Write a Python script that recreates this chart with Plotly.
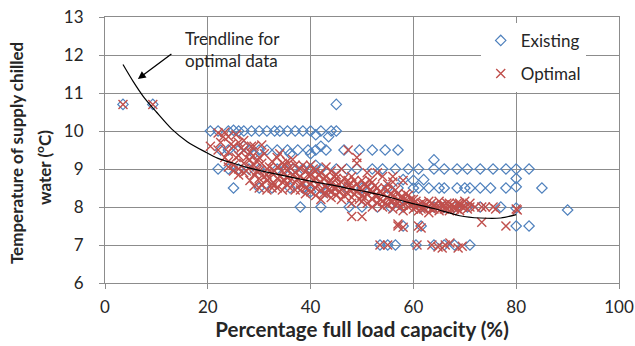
import plotly.graph_objects as go

# ---------------- data ----------------
existing_x = [3.5, 9.3, 45,
              # ~10.0 row
              20.5, 22, 24, 25, 26, 27, 28.5, 30, 31.5, 33, 34, 35.5, 37, 38.5, 40, 41, 42, 43.5, 44, 45,
              # ~9.5 row
              22.5, 24, 26, 27, 28, 29, 30, 31.5, 33.5, 35.5, 36, 37.5, 39.5, 40, 41, 42, 43, 46.5, 49.5, 52, 54.5, 57,
              # ~9.0 row
              22, 24, 26, 28, 30, 33.5, 35, 36.5, 38.5, 40, 41, 42, 45, 47, 49, 52, 54, 56.5, 59, 61, 64, 64,
              66, 68.5, 70.5, 73, 75.5, 78, 80, 82.5,
              # ~8.75 row
              58, 60, 62, 80,
              # ~8.5 row
              25, 30, 32.5, 36, 38.5, 40, 42, 43, 44, 47, 50, 52, 55, 57, 60, 61, 63, 65, 66, 68.5, 70, 71, 73, 75,
              78, 80, 85,
              # ~8.0 row
              38, 42, 47.5, 50, 53, 55.5, 58, 61.5, 64, 66, 68, 70.5, 73, 77, 80, 90,
              # ~7.5 row
              58, 61.5, 80, 82.5,
              # ~7.0 row
              53.5, 55, 56.5, 60.5, 64, 66, 68, 71]
existing_y = [10.7, 10.7, 10.7,
              10.0, 10.0, 10.0, 10.02, 10.0, 10.0, 10.0, 10.0, 10.0, 10.0, 10.0, 10.0, 10.0, 10.0, 10.0, 9.9, 10.0, 9.85, 10.0, 10.0,
              9.5, 9.5, 9.5, 9.6, 9.5, 9.4, 9.5, 9.5, 9.5, 9.5, 9.4, 9.5, 9.5, 9.4, 9.5, 9.6, 9.5, 9.5, 9.5, 9.5, 9.5, 9.5,
              9.0, 9.0, 9.0, 9.0, 9.0, 9.0, 9.0, 9.0, 9.0, 9.0, 9.1, 9.0, 9.0, 9.0, 9.0, 9.0, 9.0, 9.0, 9.0, 9.0, 9.0, 9.24,
              9.0, 9.0, 9.0, 9.0, 9.0, 9.0, 9.0, 9.0,
              8.72, 8.7, 8.72, 8.75,
              8.5, 8.5, 8.5, 8.5, 8.5, 8.4, 8.5, 8.4, 8.5, 8.5, 8.5, 8.5, 8.5, 8.5, 8.5, 8.5, 8.5, 8.5, 8.5, 8.5, 8.5, 8.5, 8.5, 8.5,
              8.5, 8.53, 8.5,
              8.0, 8.0, 8.0, 8.0, 8.0, 8.0, 8.0, 8.0, 8.0, 8.0, 8.0, 8.0, 8.0, 8.0, 7.97, 7.92,
              7.5, 7.5, 7.5, 7.5,
              7.0, 7.0, 7.0, 7.0, 7.0, 7.0, 7.0, 7.0]

optimal_x = [3.5, 9.3, 20.5, 22, 22, 23.3, 23.3, 24, 24, 24, 24, 25, 25, 25,
             26, 26, 26, 26, 27, 27, 27, 27, 28.2, 28.2, 28.2, 28.2, 29, 29, 29, 29,
             30, 30, 30, 30, 30.5, 30.5, 31.5, 31.5, 31.5, 31.5, 32.5, 32.5, 32.5, 32.5,
             33.5, 33.5, 33.5, 33.5, 34.5, 34.5, 34.5, 34.5, 35.4, 35.4, 35.4, 35.4, 36, 36, 36,
             37, 37, 37, 37, 38, 38, 38, 38, 39, 39, 39, 39, 40, 40, 40, 40, 41, 41, 41, 41,
             42, 42, 42, 42, 43, 43, 43, 43, 44, 44, 44, 44, 44, 45, 45, 45, 45, 46, 46, 46, 46,
             47.3, 47.3, 47.3, 47.3, 48, 48, 48, 48, 49, 49, 49, 49, 50, 50, 50, 50, 50,
             51, 51, 51, 51, 52, 52, 52, 52, 53, 53, 53, 53, 54, 54, 54, 54, 55, 55, 55, 55,
             56, 56, 56, 56, 57, 57, 57, 57, 58, 58, 58, 58, 59, 59, 59, 60, 60, 60, 61, 61, 61,
             62, 62, 63, 63, 63, 64, 64, 65, 65, 65, 66, 66, 67, 67, 67, 68, 68, 69, 69, 69, 70, 70, 71,
             73.3, 73.3, 75.5, 78, 80.2,
             53.5, 55, 60.7, 63.6, 64.8, 65.6, 66.2, 67.1, 68.7, 69.5,
             22.5, 23, 24.5, 25.5, 25.5, 26.5, 27.5, 27.5, 28.5, 28.8, 29.5, 29.5, 30.5, 31, 31, 32, 32,
             33, 33, 34, 34, 35, 35, 36.5, 36.5, 37.5, 38.5, 38.5, 39.5, 40.5, 40.5, 41.5, 41.5, 42.5, 42.5,
             43.5, 43.5, 44.5, 44.5, 45.5, 45.5, 46.5, 46.5, 47.5, 47.5, 48.5, 48.5, 49.5, 49.5, 50.5, 50.5,
             51.5, 51.5, 52.5, 52.5, 53.5, 53.5, 54.5, 54.5, 55.5, 55.5, 56.5, 56.5, 57.5, 57.5, 58.5, 58.5,
             59.5, 59.5, 60.5, 60.5, 61.5, 61.5, 62.5, 63.5, 63.5, 64.5, 65.5, 66.5, 66.5, 67.5, 68.5, 68.5,
             69.5, 70.5, 71, 72, 74, 76, 80, 57, 61.5, 56, 58, 48]
optimal_y = [10.7, 10.7, 9.6, 9.95, 9.5, 9.97, 9.3, 9.85, 9.45, 9.05, 9.2, 9.6, 9.1, 8.95,
             9.7, 9.35, 8.84, 9.0, 9.5, 9.15, 8.9, 9.75, 9.24, 9.05, 8.7, 9.45, 9.6, 8.85, 8.55, 9.1,
             9.3, 8.95, 8.5, 8.75, 9.63, 9.15, 9.0, 8.7, 8.85, 8.45, 9.2, 8.9, 8.6, 8.5,
             9.3, 9.05, 8.75, 8.5, 8.95, 8.65, 9.15, 8.45, 9.2, 8.97, 8.8, 8.6, 8.5, 8.7, 9.05,
             8.9, 8.65, 8.45, 9.1, 8.45, 8.8, 9.0, 8.6, 8.7, 8.95, 8.5, 8.35, 8.85, 8.6, 8.4, 9.1, 8.75, 8.5, 8.3, 8.95,
             8.65, 8.9, 8.45, 8.2, 8.8, 8.55, 8.35, 9.05, 8.6, 8.4, 8.7, 8.25, 8.95, 8.5, 8.75, 8.3, 8.85, 8.65, 8.45, 8.2, 9.0,
             9.5, 8.55, 8.35, 8.7, 8.5, 8.25, 8.8, 8.1, 9.15, 9.3, 8.6, 8.4, 8.45, 8.3, 8.7, 8.15, 7.75,
             8.55, 8.35, 8.1, 8.9, 8.4, 8.2, 8.65, 8.0, 8.9, 8.3, 8.5, 8.1, 8.8, 8.35, 8.15, 8.0, 8.45, 8.25, 8.05, 8.6,
             8.66, 8.3, 8.15, 7.95, 8.35, 8.1, 8.2, 7.5, 8.25, 8.05, 7.9, 7.47, 8.15, 8.0, 8.3, 8.1, 7.95, 8.2, 8.05, 7.9, 7.5,
             8.1, 7.95, 8.0, 7.85, 8.15, 8.05, 7.95, 7.9, 8.0, 8.15, 8.05, 7.95, 7.9, 8.1, 8.0, 8.0, 7.95, 8.05, 7.9, 8.1, 8.0, 8.15, 8.0,
             8.0, 7.6, 8.0, 7.5, 7.92,
             7.0, 7.0, 7.0, 7.0, 6.95, 6.92, 7.0, 7.05, 6.92, 6.97,
             9.7, 9.85, 9.65, 9.9, 9.3, 9.55, 9.3, 8.95, 9.6, 9.35, 9.2, 8.95, 8.6, 9.4, 8.8, 9.05, 8.75,
             8.95, 8.6, 9.4, 8.8, 9.1, 8.7, 8.85, 9.25, 8.75, 9.1, 8.6, 8.85, 8.7, 9.0, 8.6, 8.85, 8.75, 8.35,
             8.65, 8.45, 8.8, 8.5, 8.6, 8.4, 8.75, 8.3, 8.45, 8.6, 8.7, 8.35, 8.5, 8.2, 8.6, 8.25,
             8.45, 8.7, 8.3, 8.55, 8.4, 8.2, 8.5, 8.1, 8.35, 8.15, 8.45, 8.05, 8.25, 8.0, 8.15, 8.35,
             8.05, 8.2, 8.0, 8.15, 8.1, 7.95, 8.05, 7.95, 8.1, 8.0, 8.05, 7.95, 8.1, 8.05, 7.95, 8.1,
             8.0, 7.95, 8.1, 8.0, 8.0, 7.95, 7.95, 7.55, 7.45, 8.8, 8.7, 7.75]

# trendline for optimal data
trend_x = [3.5, 5.5, 7.5, 10, 13, 16, 19.5, 22, 25, 28, 31.5, 35, 40, 44, 48, 51, 55, 59, 64, 69, 73, 77, 80]
trend_y = [11.75, 11.3, 10.9, 10.5, 10.05, 9.72, 9.45, 9.28, 9.15, 9.03, 8.92, 8.82, 8.68, 8.58, 8.47, 8.4, 8.27,
           8.12, 7.96, 7.77, 7.71, 7.71, 7.8]

x_ticks = [0, 20, 40, 60, 80, 100]
y_ticks = [6, 7, 8, 9, 10, 11, 12, 13]

FONT = "Lato, 'Open Sans', sans-serif"
BLUE = "#4F81BD"
RED = "#C0504D"
GRID = "#8C8C8C"
TXT = "#262626"

fig = go.Figure()
fig.add_trace(go.Scatter(
    x=existing_x, y=existing_y, mode="markers", name="Existing", legendgroup="a",
    marker=dict(symbol="diamond-open", size=8, color=BLUE, line=dict(width=1.2, color=BLUE)),
))
fig.add_trace(go.Scatter(
    x=optimal_x, y=optimal_y, mode="markers", name="Optimal", legendgroup="b",
    marker=dict(symbol="x-thin", size=9, color=RED, line=dict(width=1.4, color=RED)),
))
fig.add_trace(go.Scatter(
    x=trend_x, y=trend_y, mode="lines", showlegend=False,
    line=dict(color="black", width=1.2, shape="spline", smoothing=0.8),
))

fig.update_layout(
    width=635, height=346,
    margin=dict(l=105, r=16, t=17, b=63),
    paper_bgcolor="white", plot_bgcolor="white",
    font=dict(family=FONT, size=16, color=TXT),
    showlegend=True,
    legend=dict(x=0.731, y=0.978, xanchor="left", yanchor="top", bgcolor="white",
                borderwidth=0, font=dict(size=17, color=TXT),
                traceorder="grouped", tracegroupgap=8),
    xaxis=dict(range=[0, 100], tickvals=x_ticks, showgrid=True, gridcolor=GRID, gridwidth=1,
               showline=True, linecolor=GRID, linewidth=1, mirror=True, zeroline=False,
               ticks="outside", ticklen=5, tickcolor=GRID, automargin=False,
               ticklabelstandoff=4,
               tickfont=dict(size=17, color=TXT),
               title=dict(text="<b>Percentage full load capacity (%)</b>", font=dict(size=20.5, color=TXT),
                          standoff=6)),
    yaxis=dict(range=[6, 13], tickvals=y_ticks, showgrid=True, gridcolor=GRID, gridwidth=1,
               showline=True, linecolor=GRID, linewidth=1, mirror=True, zeroline=False,
               ticks="outside", ticklen=5, tickcolor=GRID, automargin=False,
               ticklabelstandoff=12,
               tickfont=dict(size=17, color=TXT)),
)

# y-axis title, two lines
fig.add_annotation(x=-0.171, y=0.489, xref="paper", yref="paper", xanchor="center", yanchor="middle",
                   textangle=-90, showarrow=False, text="<b>Temperature of supply chilled</b>",
                   font=dict(size=17, color=TXT))
fig.add_annotation(x=-0.1206, y=0.432, xref="paper", yref="paper", xanchor="center", yanchor="middle",
                   textangle=-90, showarrow=False, text="<b>water (<sup>o</sup>C)</b>",
                   font=dict(size=17, color=TXT))

fig.add_annotation(x=6.4, y=11.37, xref="x", yref="y", ax=35, ay=-26, axref="pixel", ayref="pixel",
                   text="", showarrow=True, arrowhead=2, arrowsize=1.2, arrowwidth=1.3, arrowcolor="black")
fig.add_annotation(x=15.2, y=12.15, xref="x", yref="y", xanchor="left", yanchor="middle", align="left",
                   text="Trendline for<br>optimal data", showarrow=False,
                   font=dict(size=17, color=TXT))

# remove the default 8px page margin so the 635x346 figure fills the window exactly
fig.write_html("out.html", config={"displayModeBar": False},
               post_script="document.body.style.margin='0';document.body.style.overflow='hidden';")
